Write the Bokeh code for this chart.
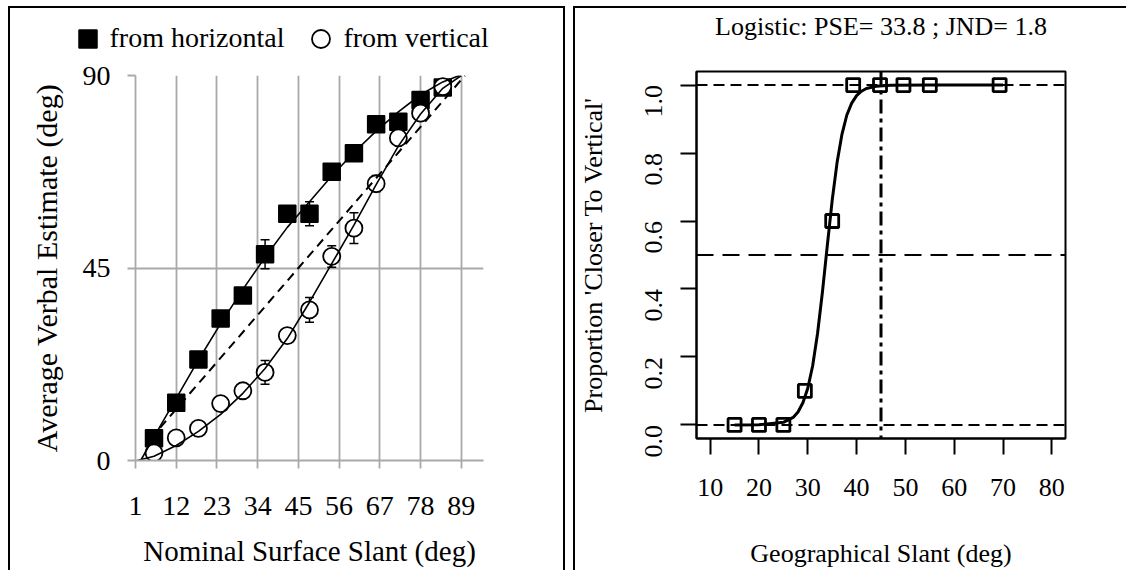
import math
from bokeh.plotting import figure
from bokeh.layouts import row, column
from bokeh.models import (ColumnDataSource, Whisker, Legend, LegendItem, Span, Spacer, Title,
                          FixedTicker, Range1d, TeeHead, PrintfTickFormatter)
from bokeh.embed import file_html
from bokeh.resources import INLINE

SERIF = "Liberation Serif"
NAN = float("nan")

# ---------------- left panel data ----------------
slant_ticks = [1, 12, 23, 34, 45, 56, 67, 78, 89]
estimate_ticks = [0, 45, 90]
nominal_slant = [6, 12, 18, 24, 30, 36, 42, 48, 54, 60, 66, 72, 78, 84]
from_horizontal = [5.2, 13.5, 23.6, 33.2, 38.6, 48.2, 57.7, 57.7, 67.5, 71.8, 78.6, 79.2, 84.3, 87.2]
from_horizontal_err = [1.2, 1.2, 1.2, 1.3, 1.3, 3.4, 1.5, 2.8, 1.4, 1.5, 1.3, 1.3, 1.2, 1.2]
from_vertical = [1.8, 5.3, 7.5, 13.3, 16.3, 20.6, 29.2, 35.2, 47.7, 54.3, 64.7, 75.4, 81.2, 87.4]
from_vertical_err = [1.0, 1.0, 1.0, 1.2, 1.3, 2.8, 1.5, 2.9, 2.5, 3.6, 1.9, 1.4, 1.3, 1.2]

# fitted curves
horiz_fit_x = [2.4, 6, 12, 18, 24, 30, 36, 42, 48, 54, 60, 66, 72, 78, 84, 88.5]
horiz_fit_y = [0, 5.5, 14.5, 23.5, 32, 40, 47.5, 54.5, 60.5, 66.5, 72, 77, 81.5, 85.5, 88.5, 90]
vert_fit_x = [1.5, 6, 12, 18, 24, 30, 36, 42, 48, 54, 60, 66, 72, 78, 84, 89]
vert_fit_y = [0, 1, 3.5, 6.8, 10.8, 15.7, 21.5, 28.5, 37, 46, 55, 64.5, 73.5, 81, 87, 90]
veridical_x = [5, 90]
veridical_y = [5, 90]
legend_labels = ["from horizontal", "from vertical"]

# ---------------- right panel data ----------------
geo_ticks = [10, 20, 30, 40, 50, 60, 70, 80]
prop_ticks = [0.0, 0.2, 0.4, 0.6, 0.8, 1.0]
geo_slant = [15, 20, 25, 29.4, 35, 39.3, 44.8, 49.6, 55, 69.3]
prop_vertical = [0, 0, 0, 0.1, 0.6, 1, 1, 1, 1, 1]
logistic_x = [15, 20, 25, 27, 28, 29, 30, 31, 32, 33, 34, 35, 36, 37, 38, 39, 40, 41, 42, 44, 47, 55, 70]
logistic_y = [0, 0.0005, 0.0075, 0.022, 0.038, 0.065, 0.108, 0.174, 0.269, 0.391, 0.528, 0.661,
              0.772, 0.855, 0.912, 0.947, 0.969, 0.982, 0.990, 0.9966, 0.9993, 1.0, 1.0]
reference_slant = 45
title_text = "Logistic: PSE= 33.8 ; JND= 1.8"

H = 570
W1, H1 = 553, 562          # left block inside its frame lines
LEG_H = 53                 # legend strip height
P1_H = H1 - LEG_H
W2, H2 = 551, 562          # right figure

SQ_STYLE = dict(marker="square", size=17, fill_color="black", line_color="black", line_width=1.5)
CI_STYLE = dict(marker="circle", size=17, fill_color="white", line_color="black", line_width=1.8)


def bar(w, h):
    return Spacer(width=w, height=h, styles={"background-color": "black"})


# ================= LEFT: legend strip =================
pl = figure(width=W1, height=LEG_H, x_range=Range1d(0, 1), y_range=Range1d(0, 1),
            output_backend="svg", toolbar_location=None,
            x_axis_location=None, y_axis_location=None, min_border=0)
pl.outline_line_color = None
pl.xgrid.visible = False
pl.ygrid.visible = False
pl.title.visible = False
# legend-only renderers (no visible points)
r_sq = pl.scatter(x=[NAN], y=[NAN], **SQ_STYLE)
r_ci = pl.scatter(x=[NAN], y=[NAN], **CI_STYLE)
leg = Legend(items=[LegendItem(label=legend_labels[0], renderers=[r_sq]),
                    LegendItem(label=legend_labels[1], renderers=[r_ci])],
             location=(54.5, 0.5), orientation="horizontal",
             glyph_width=45, glyph_height=45, label_standoff=0, spacing=14,
             padding=0, margin=0, border_line_color=None, background_fill_alpha=0,
             label_text_font=SERIF, label_text_font_size="28px", label_text_color="black")
pl.add_layout(leg, "center")

# ================= LEFT: main chart =================
GRID = "#a9a9a9"
p1 = figure(width=W1, height=P1_H, x_range=Range1d(1, 95), y_range=Range1d(0, 90),
            output_backend="svg", toolbar_location=None,
            min_border_left=125, min_border_right=80, min_border_top=14, min_border_bottom=110)
p1.outline_line_color = None
p1.background_fill_color = "white"
p1.border_fill_color = "white"
p1.title.visible = False

p1.xaxis.ticker = FixedTicker(ticks=slant_ticks)
p1.yaxis.ticker = FixedTicker(ticks=estimate_ticks)
p1.xgrid.ticker = FixedTicker(ticks=slant_ticks)
p1.ygrid.ticker = FixedTicker(ticks=estimate_ticks)
for g in (p1.xgrid, p1.ygrid):
    g.grid_line_color = GRID
    g.grid_line_width = 1.8
for ax in (p1.xaxis, p1.yaxis):
    ax.axis_line_color = GRID
    ax.axis_line_width = 1.8
    ax.major_tick_line_color = GRID
    ax.major_tick_line_width = 1.8
    ax.major_tick_out = 8
    ax.major_tick_in = 0
    ax.minor_tick_line_color = None
    ax.major_label_text_font = SERIF
    ax.major_label_text_font_size = "28px"
    ax.major_label_text_color = "black"
    ax.axis_label_text_font = SERIF
    ax.axis_label_text_font_style = "normal"
    ax.axis_label_text_color = "black"
p1.xaxis.axis_label = "Nominal Surface Slant (deg)"
p1.yaxis.axis_label = "Average Verbal Estimate (deg)"
p1.xaxis.axis_label_text_font_size = "29px"
p1.yaxis.axis_label_text_font_size = "30px"
p1.xaxis.major_label_standoff = 28
p1.yaxis.major_label_standoff = 17
p1.xaxis.axis_label_standoff = 17
p1.yaxis.axis_label_standoff = 17

src_h = ColumnDataSource(dict(x=nominal_slant, y=from_horizontal,
                              lo=[v - e for v, e in zip(from_horizontal, from_horizontal_err)],
                              hi=[v + e for v, e in zip(from_horizontal, from_horizontal_err)]))
src_v = ColumnDataSource(dict(x=nominal_slant, y=from_vertical,
                              lo=[v - e for v, e in zip(from_vertical, from_vertical_err)],
                              hi=[v + e for v, e in zip(from_vertical, from_vertical_err)]))
for src in (src_h, src_v):
    w = Whisker(source=src, base="x", lower="lo", upper="hi", line_color="black", line_width=1.5,
                upper_head=TeeHead(size=9, line_color="black", line_width=1.5),
                lower_head=TeeHead(size=9, line_color="black", line_width=1.5))
    p1.add_layout(w)

p1.scatter("x", "y", source=src_h, **SQ_STYLE)
p1.scatter("x", "y", source=src_v, **CI_STYLE)
p1.line(horiz_fit_x, horiz_fit_y, line_color="black", line_width=1.6)
p1.line(vert_fit_x, vert_fit_y, line_color="black", line_width=1.6)
p1.line(veridical_x, veridical_y, line_color="black", line_width=2, line_dash="9 6")

# ================= RIGHT =================
p2 = figure(width=W2, height=H2, x_range=Range1d(7.2, 82.8), y_range=Range1d(-0.04, 1.04),
            output_backend="svg", toolbar_location=None,
            min_border_left=121, min_border_right=61, min_border_top=63, min_border_bottom=131)
p2.outline_line_color = "black"
p2.outline_line_width = 2
p2.background_fill_color = "white"
p2.border_fill_color = "white"
p2.xgrid.visible = False
p2.ygrid.visible = False
p2.xaxis.ticker = FixedTicker(ticks=geo_ticks)
p2.yaxis.ticker = FixedTicker(ticks=prop_ticks)
p2.yaxis.formatter = PrintfTickFormatter(format="%.1f")
for ax in (p2.xaxis, p2.yaxis):
    ax.axis_line_color = "black"
    ax.axis_line_width = 2
    ax.major_tick_line_color = "black"
    ax.major_tick_line_width = 2
    ax.major_tick_out = 16
    ax.major_tick_in = 0
    ax.minor_tick_line_color = None
    ax.major_label_text_font = SERIF
    ax.major_label_text_font_size = "26px"
    ax.major_label_text_color = "black"
    ax.axis_label_text_font = SERIF
    ax.axis_label_text_font_size = "26px"
    ax.axis_label_text_font_style = "normal"
    ax.axis_label_text_color = "black"
p2.yaxis.major_label_orientation = math.pi / 2
p2.xaxis.axis_label = "Geographical Slant (deg)"
p2.yaxis.axis_label = "Proportion 'Closer To Vertical'"
p2.xaxis.major_label_standoff = 24
p2.yaxis.major_label_standoff = 27
p2.xaxis.axis_label_standoff = 40
p2.yaxis.axis_label_standoff = 26

# spacer title keeps the real title away from the frame
p2.add_layout(Title(text=" ", text_font_size="2px", standoff=27), "above")
p2.title.text = title_text
p2.title.align = "center"
p2.title.vertical_align = "bottom"
p2.title.standoff = 0
p2.title.text_font = SERIF
p2.title.text_font_size = "26px"
p2.title.text_font_style = "normal"
p2.title.text_color = "black"

for loc, dash in ((0.0, "11 6"), (1.0, "11 6"), (0.5, "17 9")):
    p2.add_layout(Span(location=loc, dimension="width", line_color="black",
                       line_width=2, line_dash=dash))
p2.add_layout(Span(location=reference_slant, dimension="height", line_color="black",
                   line_width=3, line_dash="14 5 4 5"))

p2.line(logistic_x, logistic_y, line_color="black", line_width=3)
p2.scatter(geo_slant, prop_vertical, marker="square", size=13, fill_color=None,
           line_color="black", line_width=2.8)

# ================= page with frame lines =================
left_block = row(Spacer(width=8, height=H),
                 column(Spacer(width=557, height=6), bar(557, 2),
                        row(bar(2, H1), column(row(pl), p1), bar(2, H1))))
right_block = row(Spacer(width=8, height=H),
                  column(Spacer(width=553, height=6), bar(553, 2),
                         row(bar(2, H2), p2)))
layout = row(left_block, right_block)
open("out.html", "w").write(file_html(layout, INLINE))
